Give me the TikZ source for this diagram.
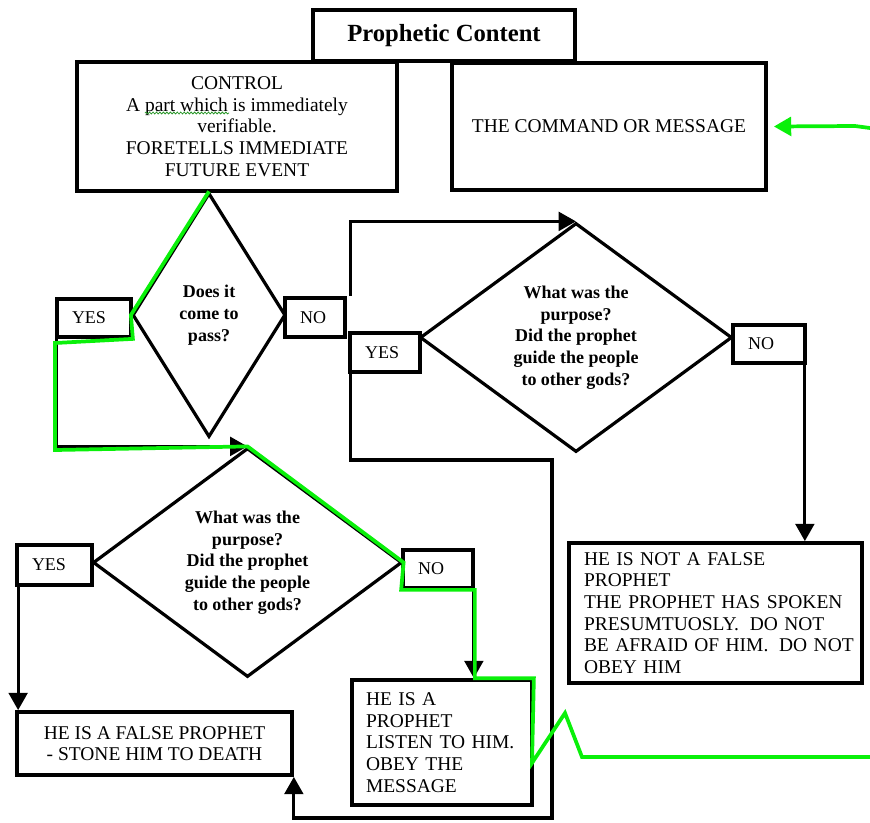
\documentclass[tikz,border=0pt]{standalone}
\usepackage{fontspec}
\setmainfont{Liberation Serif}
\usetikzlibrary{shapes.geometric,arrows.meta,calc,decorations.pathmorphing}
\definecolor{hl}{RGB}{10,240,10}
\definecolor{spell}{RGB}{40,150,40}
\begin{document}
\begin{tikzpicture}[x=0.75pt,y=-0.75pt,
  box/.style={draw,line width=2.8pt,inner ysep=0pt,font=\fontsize{14.6}{16.2}\selectfont},
  lbl/.style={draw,line width=2.8pt,inner xsep=11.25pt,inner ysep=0pt,align=left,font=\fontsize{13.5}{16}\selectfont},
  dia/.style={draw,diamond,line width=2.4pt,inner sep=0pt,align=center,font=\fontsize{13.5}{16.3}\selectfont\bfseries},
  conn/.style={line width=2.4pt},
  arr/.style={conn,-{Triangle[width=14pt,length=13pt]}},
  hlpath/.style={hl,line width=2.8pt}]
\useasboundingbox (0,0) rectangle (870,822);

% boxes
\node[box,minimum width=196.5pt,minimum height=38.25pt,font=\fontsize{18.5}{20}\selectfont\bfseries] (title) at (444,35.5) {Prophetic Content};
\node[box,align=center,minimum width=240pt,minimum height=96.75pt] (control) at (237,126.5) {CONTROL\\A part which is immediately\\verifiable.\\FORETELLS IMMEDIATE\\FUTURE EVENT};
\node[box,minimum width=235.5pt,minimum height=95.25pt] (command) at (609,126.5) {THE COMMAND OR MESSAGE};

% diamonds
\node[dia,shape aspect=0.63,minimum width=114.75pt,minimum height=183pt] (d1) at (209,315) {Does it\\come to\\pass?};
\node[dia,shape aspect=1.36,minimum width=234pt,minimum height=171.75pt] (d2) at (576,337.5) {What was the\\purpose?\\Did the prophet\\guide the people\\to other gods?};
\node[dia,shape aspect=1.36,minimum width=231.75pt,minimum height=171.75pt] (d3) at (247.5,562.5) {What was the\\purpose?\\Did the prophet\\guide the people\\to other gods?};

% yes / no labels
\node[lbl,text width=33pt,minimum height=28.5pt] (yes1) at (94,318) {YES};
\node[lbl,text width=22.5pt,minimum height=29.25pt] (no1) at (315,317.5) {NO};
\node[lbl,text width=30pt,minimum height=29.25pt] (yes2) at (385,352.5) {YES};
\node[lbl,text width=31.5pt,minimum height=28.5pt] (no2) at (769,344) {NO};
\node[lbl,text width=33.75pt,minimum height=30pt] (yes3) at (54.5,565) {YES};
\node[lbl,text width=30pt,minimum height=28.5pt] (no3) at (438,569) {NO};

% outcome boxes
\node[box,align=center,minimum width=206.25pt,minimum height=47.25pt] (false) at (154.5,743.5) {HE IS A FALSE PROPHET\\- STONE HIM TO DEATH};
\node[box,align=left,inner xsep=10.5pt,text width=114pt,minimum height=93.75pt] (prophet) at (442,742.5) {\mbox{HE IS A}\\\mbox{PROPHET}\\\mbox{LISTEN TO HIM.}\\\mbox{OBEY THE}\\\mbox{MESSAGE}};
\node[box,align=left,inner xsep=11.25pt,text width=197.25pt,minimum height=105pt] (notfalse) at (715.5,613) {\mbox{HE IS NOT A FALSE}\\\mbox{PROPHET}\\\mbox{THE PROPHET HAS SPOKEN}\\\mbox{PRESUMTUOSLY.\hspace{0.55em}DO NOT}\\\mbox{BE AFRAID OF HIM.\hspace{0.55em}DO NOT}\\\mbox{OBEY HIM}};

% spell-check squiggle
\draw[spell,line width=0.6pt,decorate,decoration={snake,amplitude=0.7pt,segment length=2.6pt}] (145,113) -- (229,113);

% black connectors
\coordinate (n1) at ($(no1.north east)+(4,0)$);
\draw[arr] (n1) |- (d2.north);
\draw[arr] ($(yes1.south west)+(1,0)$) |- (d3.north);
\coordinate (n2) at ($(no2.south east)+(-2,0)$);
\draw[arr] (n2) -- (n2 |- notfalse.north);
\coordinate (y3) at ($(yes3.south west)+(3,0)$);
\draw[arr] (y3) -- (y3 |- false.north);
\coordinate (n3) at ($(no3.south east)+(-1,0)$);
\draw[arr] (n3) -- (n3 |- prophet.north);
\coordinate (b1) at (552,460);
\coordinate (b2) at (552,818);
\draw[arr] ($(yes2.south west)+(2,0)$) |- (b1) -- (b2) -| (false.south east);

% green highlighted path
\coordinate (g1) at (55,343);
\coordinate (g2) at (55,450);
\coordinate (z1) at (532,763);
\coordinate (z2) at (565,713);
\coordinate (z3) at (582,757);
\coordinate (z4) at (870,757);
\draw[hlpath] (d1.north) -- (d1.west) -- (yes1.south east) -- (g1) -- (g2) -- (d3.north) -- (d3.east)
  -- (no3.south west) -- (no3.south east) -- (no3.south east |- prophet.north) -- (prophet.north east)
  -- (z1) -- (z2) -- (z3) -- (z4);
\coordinate (gs) at (870,128);
\coordinate (gm) at (855,126);
\draw[hlpath,-{Triangle[width=14pt,length=13pt]}] (gs) -- (gm) -- ($(command.east)+(6,0)$);
\end{tikzpicture}
\end{document}
